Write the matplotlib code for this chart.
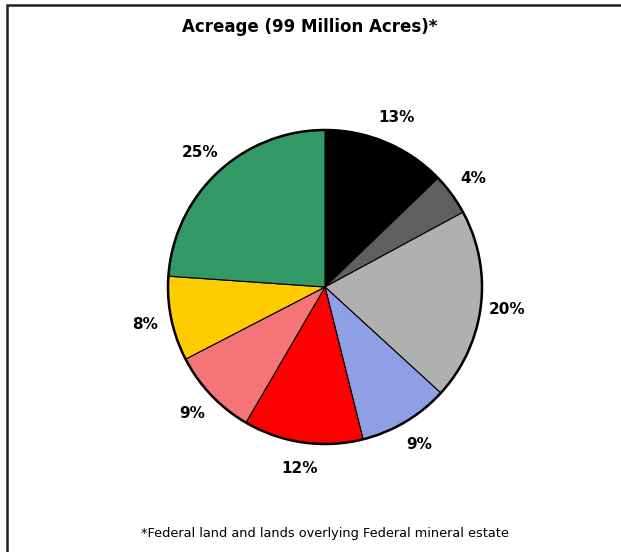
import matplotlib.pyplot as plt
from matplotlib.patches import Circle, Rectangle

shares = [12.8, 4.3, 19.7, 9.3, 12.3, 9.0, 8.7, 23.9]
labels = ['13%', '4%', '20%', '9%', '12%', '9%', '8%', '25%']
colors = ['#000000', '#5f5f5f', '#b0b0b0', '#8f9fe6',
          '#ff0000', '#f47478', '#ffcc00', '#339966']

title = 'Acreage (99 Million Acres)*'
note = '*Federal land and lands overlying Federal mineral estate'

W, H = 621, 552
fig = plt.figure(figsize=(W / 100, H / 100), dpi=100)
ax = fig.add_axes([0, 0, 1, 1])

cx, cy, R = 325, H - 287, 157
wedges, texts = ax.pie(shares, labels=labels, colors=colors, startangle=90,
                       counterclock=False, center=(cx, cy), radius=R,
                       labeldistance=1.17, frame=True,
                       wedgeprops=dict(edgecolor='black', linewidth=0.8),
                       textprops=dict(fontsize=11, fontweight='bold'))
for t in texts:
    t.set_ha('center')
    t.set_va('center')
ax.set_xlim(0, W)
ax.set_ylim(0, H)
ax.set_aspect('equal')
ax.axis('off')
ax.add_patch(Circle((cx, cy), R, fill=False, edgecolor='black', linewidth=1.8))

# outer frame (only top and left edges visible)
fig.add_artist(Rectangle((7 / W, -0.1), 1.2, 1 - 5 / H + 0.1, transform=fig.transFigure,
                         fill=False, edgecolor='#222222', linewidth=1.8))

fig.text(310 / W, 1 - 27 / H, title, ha='center', va='center',
         fontsize=12, fontweight='bold')
fig.text(325 / W, 1 - 534 / H, note, ha='center', va='center', fontsize=9.3)

fig.savefig('out.png', dpi=100, facecolor='white')
